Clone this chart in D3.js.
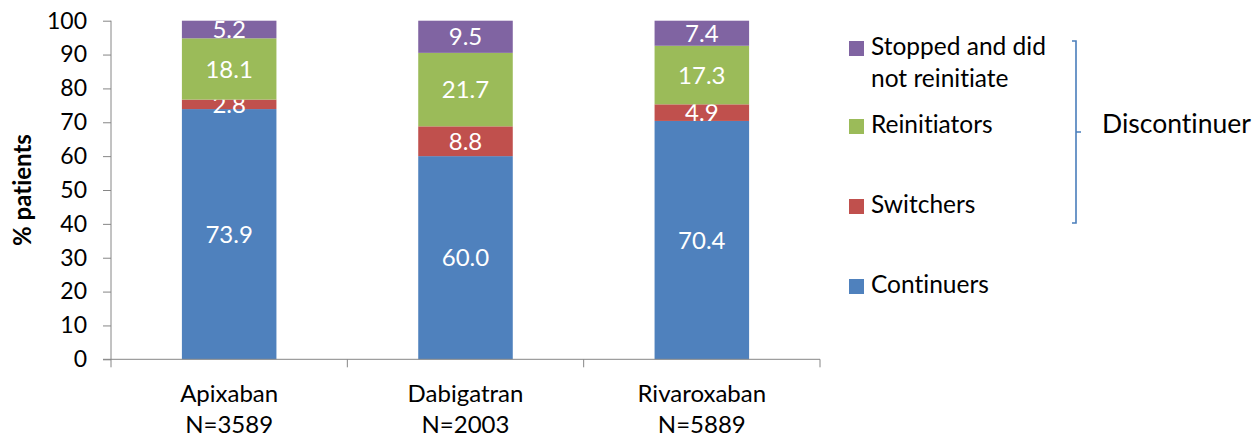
<!DOCTYPE html>
<html><head><meta charset="utf-8">
<script src="https://cdn.jsdelivr.net/npm/d3@7"></script>
<style>
body{margin:0;background:#fff;}
svg text{font-family:Lato,"Open Sans",sans-serif;font-variant-ligatures:none;font-feature-settings:"liga" 0,"clig" 0;}
</style></head>
<body><svg id="c" width="1257" height="444"></svg>
<script>
const categories = ["Apixaban", "Dabigatran", "Rivaroxaban"];
const categoryN = ["N=3589", "N=2003", "N=5889"];
const seriesNames = ["Continuers", "Switchers", "Reinitiators", "Stopped and did not reinitiate"];
const continuers = [73.9, 60.0, 70.4];
const switchers = [2.8, 8.8, 4.9];
const reinitiators = [18.1, 21.7, 17.3];
const stopped = [5.2, 9.5, 7.4];
const yTicks = [0, 10, 20, 30, 40, 50, 60, 70, 80, 90, 100];
const colors = ["#4F81BD", "#C0504D", "#9BBB59", "#8064A2"];
const legendLines = [["Continuers"], ["Switchers"], ["Reinitiators"], ["Stopped and did", "not reinitiate"]];
const bracketLabel = "Discontinuer";
const yTitle = "% patients";

const svg = d3.select("#c");
const y = d3.scaleLinear().domain([0, 100]).range([359.3, 20.7]);
const x = d3.scaleBand().domain(categories).range([111, 820]).paddingInner(0.6).paddingOuter(0.3);

const rows = categories.map((c, i) => ({cat: c, Continuers: continuers[i], Switchers: switchers[i], Reinitiators: reinitiators[i], "Stopped and did not reinitiate": stopped[i]}));
const stack = d3.stack().keys(seriesNames)(rows);

const axisColor = "#868686";
// y axis
const yAx = svg.append("g").attr("transform", "translate(111,0)")
  .call(d3.axisLeft(y).tickValues(yTicks).tickSize(8).tickPadding(16).tickFormat(d3.format("d")));
yAx.select(".domain").attr("stroke", axisColor).attr("d", `M0,${y(100)}V${y(0)}`);
yAx.selectAll(".tick line").attr("stroke", axisColor);
yAx.selectAll(".tick text").attr("fill", "#000").style("font-size", "23px").style("font-family", "Lato");

// bars
stack.forEach((s, k) => {
  svg.append("g").selectAll("rect").data(s).join("rect")
    .attr("x", d => x(d.data.cat)).attr("width", x.bandwidth())
    .attr("y", d => y(d[1])).attr("height", d => y(d[0]) - y(d[1]))
    .attr("fill", colors[k]);
  svg.append("g").selectAll("text").data(s).join("text")
    .attr("x", d => x(d.data.cat) + x.bandwidth() / 2)
    .attr("y", d => (y(d[0]) + y(d[1])) / 2)
    .attr("dy", "0.36em")
    .attr("text-anchor", "middle").attr("fill", "#fff").style("font-size", "24px")
    .text(d => (d[1] - d[0]).toFixed(1));
});

// x axis
const xb = [111, ...categories.map(c => x(c) + x.bandwidth() / 2 + x.step() / 2)];
const xg = svg.append("g");
xg.append("line").attr("x1", 103).attr("x2", xb[xb.length - 1]).attr("y1", y(0)).attr("y2", y(0)).attr("stroke", axisColor);
xg.selectAll("line.t").data(xb).join("line").attr("class", "t")
  .attr("x1", d => d).attr("x2", d => d).attr("y1", y(0)).attr("y2", y(0) + 8).attr("stroke", axisColor);
const cl = svg.append("g").selectAll("text").data(categories).join("text")
  .attr("text-anchor", "middle").style("font-size", "24px").attr("fill", "#000")
  .attr("x", d => x(d) + x.bandwidth() / 2);
cl.append("tspan").attr("x", d => x(d) + x.bandwidth() / 2).attr("y", 402).text(d => d);
cl.append("tspan").attr("x", d => x(d) + x.bandwidth() / 2).attr("y", 433).text((d, i) => categoryN[i]);

// y title
svg.append("text").attr("transform", `translate(31,${(y(0) + y(100)) / 2}) rotate(-90)`)
  .attr("text-anchor", "middle").style("font-size", "24px").style("font-weight", "bold").text(yTitle);

// legend
const legY = [293, 213, 133, 55];
const lg = svg.append("g");
legendLines.forEach((lines, k) => {
  lg.append("rect").attr("x", 849).attr("y", legY[k] - 14).attr("width", 15).attr("height", 15).attr("fill", colors[k]);
  const t = lg.append("text").style("font-size", "24.5px").attr("fill", "#000");
  lines.forEach((ln, j) => t.append("tspan").attr("x", 871).attr("y", legY[k] + j * 32).text(ln));
});

// bracket
svg.append("path").attr("d", "M1072,41H1076V223H1072M1076,132H1081")
  .attr("fill", "none").attr("stroke", "#4A7EBB").attr("stroke-width", 1.6);
svg.append("text").attr("x", 1102).attr("y", 133).style("font-size", "26.5px").attr("fill", "#000").text(bracketLabel);
</script></body></html>
